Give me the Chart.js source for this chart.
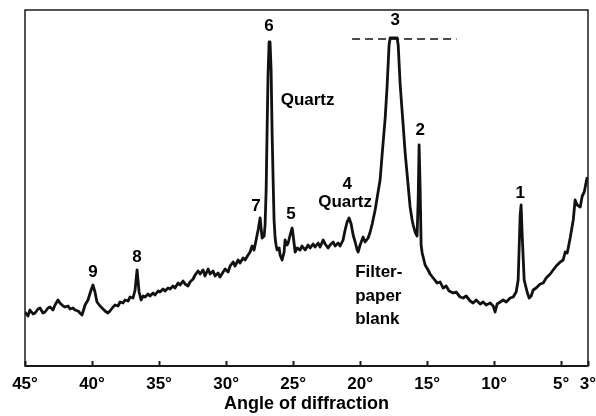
<!DOCTYPE html>
<html>
<head>
<meta charset="utf-8">
<script src="https://cdn.jsdelivr.net/npm/chart.js@4"></script>
<style>
  html, body { margin: 0; padding: 0; background: #fff; }
  #wrap { width: 596px; height: 416px; }
</style>
</head>
<body>
<div id="wrap"><canvas id="myChart" width="596" height="416"></canvas></div>
<script>
// Diffraction trace (angle in degrees, intensity in arbitrary units)
const angles = [
  45.00, 44.78, 44.63, 44.40, 44.25, 44.03, 43.88, 43.66, 43.51, 43.28,
  43.13, 42.91, 42.76, 42.54, 42.39, 42.16, 42.01, 41.79, 41.64, 41.42,
  41.27, 41.04, 40.90, 40.75, 40.52, 40.30, 40.07, 39.93, 39.78, 39.63,
  39.40, 39.18, 39.03, 38.81, 38.66, 38.43, 38.28, 38.06, 37.91, 37.69,
  37.54, 37.31, 37.16, 36.94, 36.79, 36.64, 36.49, 36.34, 36.19, 36.04,
  35.82, 35.67, 35.45, 35.30, 35.07, 34.93, 34.70, 34.55, 34.33, 34.18,
  33.96, 33.81, 33.58, 33.43, 33.21, 33.06, 32.84, 32.69, 32.46, 32.31,
  32.09, 31.94, 31.72, 31.57, 31.34, 31.19, 30.97, 30.82, 30.60, 30.45,
  30.22, 30.07, 29.85, 29.70, 29.48, 29.33, 29.10, 28.96, 28.73, 28.58,
  28.36, 28.21, 28.06, 27.91, 27.76, 27.61, 27.46, 27.39, 27.31, 27.16,
  27.09, 27.01, 26.94, 26.87, 26.79, 26.72, 26.64, 26.57, 26.49, 26.42,
  26.34, 26.27, 26.19, 26.04, 25.97, 25.82, 25.67, 25.60, 25.45, 25.37,
  25.22, 25.07, 25.00, 24.85, 24.70, 24.48, 24.33, 24.10, 23.88, 23.73,
  23.51, 23.36, 23.13, 22.99, 22.76, 22.61, 22.39, 22.24, 22.01, 21.87,
  21.64, 21.49, 21.27, 21.12, 20.97, 20.82, 20.67, 20.52, 20.37, 20.22,
  20.15, 20.00, 19.78, 19.63, 19.40, 19.25, 19.10, 18.88, 18.66, 18.51,
  18.36, 18.13, 17.99, 17.84, 17.76, 17.24, 17.16, 17.01, 16.79, 16.64,
  16.42, 16.27, 16.12, 16.04, 15.90, 15.75, 15.67, 15.60, 15.52, 15.45,
  15.37, 15.15, 14.93, 14.78, 14.55, 14.25, 14.03, 13.81, 13.58, 13.36,
  13.06, 12.84, 12.54, 12.31, 12.09, 11.79, 11.57, 11.34, 11.04, 10.82,
  10.60, 10.30, 10.07, 9.93, 9.78, 9.55, 9.33, 9.10, 8.81, 8.58,
  8.36, 8.21, 8.06, 7.99, 7.91, 7.76, 7.54, 7.39, 7.24, 7.09,
  6.87, 6.57, 6.34, 6.12, 5.82, 5.60, 5.37, 5.07, 4.85, 4.70,
  4.55, 4.33, 4.10, 3.96, 3.81, 3.58, 3.43, 3.28, 3.06
];
const counts = [
  54, 50, 56, 52, 53, 57, 58, 53, 54, 58,
  59, 56, 61, 66, 63, 60, 59, 60, 57, 58,
  56, 55, 53, 51, 61, 66, 76, 81, 74, 64,
  60, 57, 55, 53, 55, 59, 61, 60, 64, 63,
  66, 65, 69, 68, 76, 96, 74, 66, 70, 69,
  72, 70, 73, 71, 75, 74, 77, 75, 78, 77,
  80, 78, 83, 81, 85, 82, 80, 84, 87, 91,
  95, 92, 96, 90, 97, 92, 95, 90, 93, 89,
  94, 97, 94, 100, 104, 100, 106, 103, 108, 106,
  111, 114, 120, 116, 126, 136, 148, 138, 128, 130,
  141, 176, 236, 291, 324, 324, 296, 236, 186, 146,
  128, 121, 116, 118, 111, 106, 114, 126, 121, 123,
  131, 138, 131, 114, 118, 116, 120, 116, 121, 118,
  122, 119, 123, 119, 126, 122, 118, 121, 124, 120,
  123, 120, 126, 136, 144, 148, 142, 131, 124, 116,
  114, 121, 129, 124, 128, 134, 142, 156, 174, 186,
  211, 248, 279, 321, 328, 328, 321, 281, 241, 213,
  181, 159, 146, 141, 134, 130, 166, 221, 176, 121,
  113, 101, 96, 92, 88, 83, 84, 78, 80, 75,
  73, 74, 69, 68, 70, 65, 63, 66, 62, 64,
  61, 63, 60, 54, 62, 64, 66, 64, 68, 69,
  74, 86, 151, 161, 131, 86, 74, 68, 70, 76,
  78, 82, 83, 88, 92, 96, 100, 104, 106, 114,
  113, 128, 146, 166, 161, 159, 170, 174, 189
];

// Dashed cut-off over the off-scale peak 3
const cutoffAngles = [20.6, 12.8];
const cutoffLevels = [327, 327];

// Axis ticks (degrees)
const tickAngles = [45, 40, 35, 30, 25, 20, 15, 10, 5, 3];

const FONT = '"Liberation Sans", Arial, sans-serif';

// Text notes on the trace, anchored in data units
const notes = [
  { text: "6", angle: 26.79, level: 340 },
  { text: "3", angle: 17.39, level: 346 },
  { text: "2", angle: 15.52, level: 236 },
  { text: "1", angle: 8.06, level: 173 },
  { text: "4", angle: 20.97, level: 182 },
  { text: "5", angle: 25.15, level: 152 },
  { text: "7", angle: 27.76, level: 160 },
  { text: "8", angle: 36.64, level: 109 },
  { text: "9", angle: 39.93, level: 94 },
  { text: "Quartz", angle: 23.92, level: 266 },
  { text: "Quartz", angle: 21.12, level: 164 },
  { text: "Filter-", angle: 20.37, level: 94, left: true },
  { text: "paper", angle: 20.37, level: 70, left: true },
  { text: "blank", angle: 20.37, level: 47, left: true }
];

const framePlugin = {
  id: "frame",
  afterDraw(chart) {
    const { ctx, chartArea: a, scales: { x, y } } = chart;
    ctx.save();
    ctx.strokeStyle = "#1a1a1a";
    ctx.lineWidth = 1.5;
    ctx.strokeRect(a.left, a.top, a.right - a.left, a.bottom - a.top);
    ctx.lineWidth = 2;
    ctx.beginPath();
    ctx.moveTo(a.left, a.bottom);
    ctx.lineTo(a.right, a.bottom);
    // inward tick marks
    tickAngles.forEach((v) => {
      const px = Math.round(x.getPixelForValue(v)) + 0.5;
      ctx.moveTo(px, a.bottom);
      ctx.lineTo(px, a.bottom - 5);
    });
    ctx.stroke();

    ctx.fillStyle = "#000";
    ctx.font = "bold 17px " + FONT;
    ctx.textBaseline = "middle";
    notes.forEach((n) => {
      ctx.textAlign = n.left ? "left" : "center";
      ctx.fillText(n.text, x.getPixelForValue(n.angle), y.getPixelForValue(n.level));
    });
    ctx.restore();
  }
};

const chrt = document.getElementById("myChart");

new Chart(chrt, {
  type: "line",
  data: {
    datasets: [
      {
        data: angles.map((a, i) => ({ x: a, y: counts[i] })),
        borderColor: "#111",
        borderWidth: 2.8,
        borderJoinStyle: "round",
        pointRadius: 0,
        tension: 0
      },
      {
        data: cutoffAngles.map((a, i) => ({ x: a, y: cutoffLevels[i] })),
        borderColor: "#111",
        borderWidth: 1.5,
        borderDash: [8, 5],
        pointRadius: 0
      }
    ]
  },
  options: {
    responsive: false,
    animation: false,
    devicePixelRatio: 1,
    layout: { padding: { left: 25, right: 8, top: 10, bottom: 0 } },
    plugins: {
      legend: { display: false },
      tooltip: { enabled: false }
    },
    scales: {
      x: {
        type: "linear",
        reverse: true,
        min: 3,
        max: 45,
        afterBuildTicks: (scale) => {
          scale.ticks = tickAngles.map((v) => ({ value: v }));
        },
        afterFit: (scale) => {
          scale.height = 50;
          scale.paddingLeft = 0;
          scale.paddingRight = 0;
        },
        grid: { display: false, drawTicks: false },
        border: { display: false },
        ticks: {
          padding: 8,
          color: "#000",
          autoSkip: false,
          maxRotation: 0,
          font: { family: FONT, size: 17, weight: "bold" },
          callback: (v) => v + "°"
        },
        title: {
          display: true,
          text: "Angle of diffraction",
          color: "#000",
          font: { family: FONT, size: 18, weight: "bold" },
          padding: { top: 0, bottom: 1 }
        }
      },
      y: {
        display: false,
        min: 0,
        max: 356
      }
    }
  },
  plugins: [framePlugin]
});
</script>
</body>
</html>
